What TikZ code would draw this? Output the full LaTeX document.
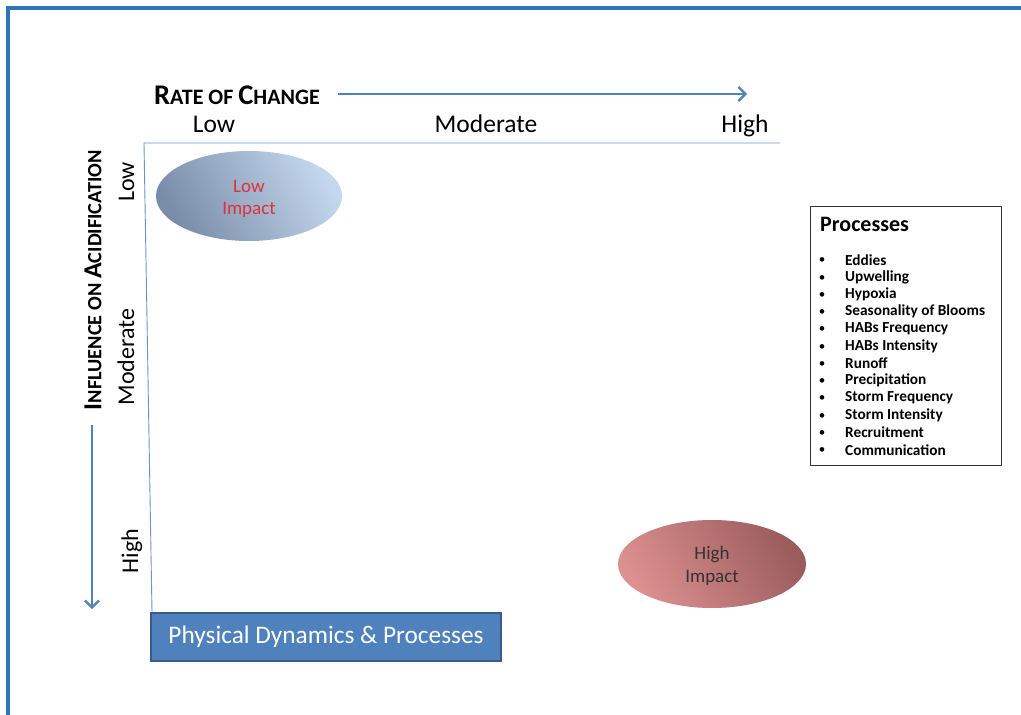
\documentclass[tikz,border=0pt]{standalone}
\usepackage{fontspec}
\setmainfont{Carlito}
\usetikzlibrary{arrows.meta,shapes.geometric}
\definecolor{frameblue}{HTML}{2E75B6}
\definecolor{axblue}{HTML}{4F81BD}
\definecolor{boxedge}{HTML}{385D8A}
\definecolor{lowdark}{HTML}{7A8DA8}
\definecolor{lowlight}{HTML}{C3D7EE}
\definecolor{highdark}{HTML}{9C5C5C}
\definecolor{highlight}{HTML}{DC9090}
\definecolor{lowred}{HTML}{E0303C}
\newcommand{\rbig}[1]{{\fontsize{28.5}{28.5}\selectfont #1}}
\newcommand{\rsm}[1]{{\fontsize{22}{22}\selectfont #1}}
\newcommand{\ibig}[1]{{\fontsize{26}{26}\selectfont #1}}
\newcommand{\ism}[1]{{\fontsize{20.3}{20.3}\selectfont #1}}
\tikzset{
  axlabel/.style={font=\fontsize{25.5}{25.5}\selectfont, inner sep=0, anchor=base},
  vlabel/.style={font=\fontsize{24}{24}\selectfont, inner sep=0, rotate=90, anchor=base},
  axarrow/.style={axblue, line width=2.4, -{Straight Barb[length=7,width=14,line width=2.2]}},
  impact/.style={ellipse, minimum width=186, minimum height=90, inner sep=0, align=center, font=\fontsize{19}{22}\selectfont},
  item/.style={anchor=west, inner sep=0, font=\bfseries\fontsize{15.3}{15.3}\selectfont},
  bul/.style={inner sep=0, font=\fontsize{13}{13}\selectfont}
}
\begin{document}
\begin{tikzpicture}[x=1pt,y=-1pt]
\useasboundingbox (0,0) rectangle (1021,715);
\fill[white] (0,0) rectangle (1021,715);
% outer frame
\draw[frameblue, line width=4] (8,715) -- (8,8) -- (1021,8);

% horizontal axis title
\node[anchor=west, inner sep=0, font=\bfseries] (rtitle) at (154,95)
  {\rbig{R}\rsm{ATE OF }\rbig{C}\rsm{HANGE}};
\coordinate (rstart) at (338,94);
\coordinate (rend) at (747,94);
\draw[axarrow] (rstart) -- (rend);

\node[axlabel] (xlow) at (214,132) {Low};
\node[axlabel] (xmod) at (486,132) {Moderate};
\node[axlabel] (xhigh) at (745,132) {High};

% chart axes
\coordinate (c0) at (144,143);
\coordinate (c1) at (780,143);
\coordinate (c2) at (152,612);
\draw[axblue!85, line width=0.9] (c1) -- (c0) -- (c2);

% vertical labels
\node[vlabel] (ylow) at (134,182) {Low};
\node[vlabel] (ymod) at (134,357) {Moderate};
\node[vlabel] (yhigh) at (138,551) {High};

\node[rotate=90, inner sep=0, font=\bfseries] (ititle) at (93,280)
  {\ibig{I}\ism{NFLUENCE ON }\ibig{A}\ism{CIDIFICATION}};
\coordinate (istart) at (92,425);
\coordinate (iend) at (92,609);
\draw[axarrow] (istart) -- (iend);

% impact ellipses
\node[impact, top color=lowlight, bottom color=lowdark, shading angle=-60, text=lowred] (low) at (249,196) {};
\node[inner sep=0, align=center, text=lowred, font=\fontsize{19}{22}\selectfont] (lowt) at (249,199) {Low\\Impact};
\node[impact, top color=highdark, bottom color=highlight, shading angle=-60, minimum width=188, minimum height=88] (high) at (712,564) {};
\node[inner sep=0, align=center, text=black!80, font=\fontsize{19}{23}\selectfont] (hight) at (712,566) {High\\Impact};

% processes box
\node[draw=black!80, line width=0.9, minimum width=191, minimum height=259, inner sep=0] (pbox) at (905.5,335.5) {};
\node[anchor=west, inner sep=0, font=\bfseries\fontsize{22}{22}\selectfont] (ptitle) at (820,224) {Processes};
\foreach \t [count=\i] in {Eddies,Upwelling,Hypoxia,Seasonality of Blooms,HABs Frequency,HABs Intensity,Runoff,Precipitation,Storm Frequency,Storm Intensity,Recruitment,Communication}{
  \node[bul] (b\i) at (822,{261+17.25*(\i-1)}) {•};
  \node[item] (p\i) at (845,{260+17.25*(\i-1)}) {\t};
}

% bottom box
\node[draw=boxedge, line width=2, fill=axblue, text=white, minimum width=350, minimum height=48, inner sep=0, font=\fontsize{25.3}{25.3}\selectfont] (phys) at (326,637) {Physical Dynamics \& Processes};
\end{tikzpicture}
\end{document}
